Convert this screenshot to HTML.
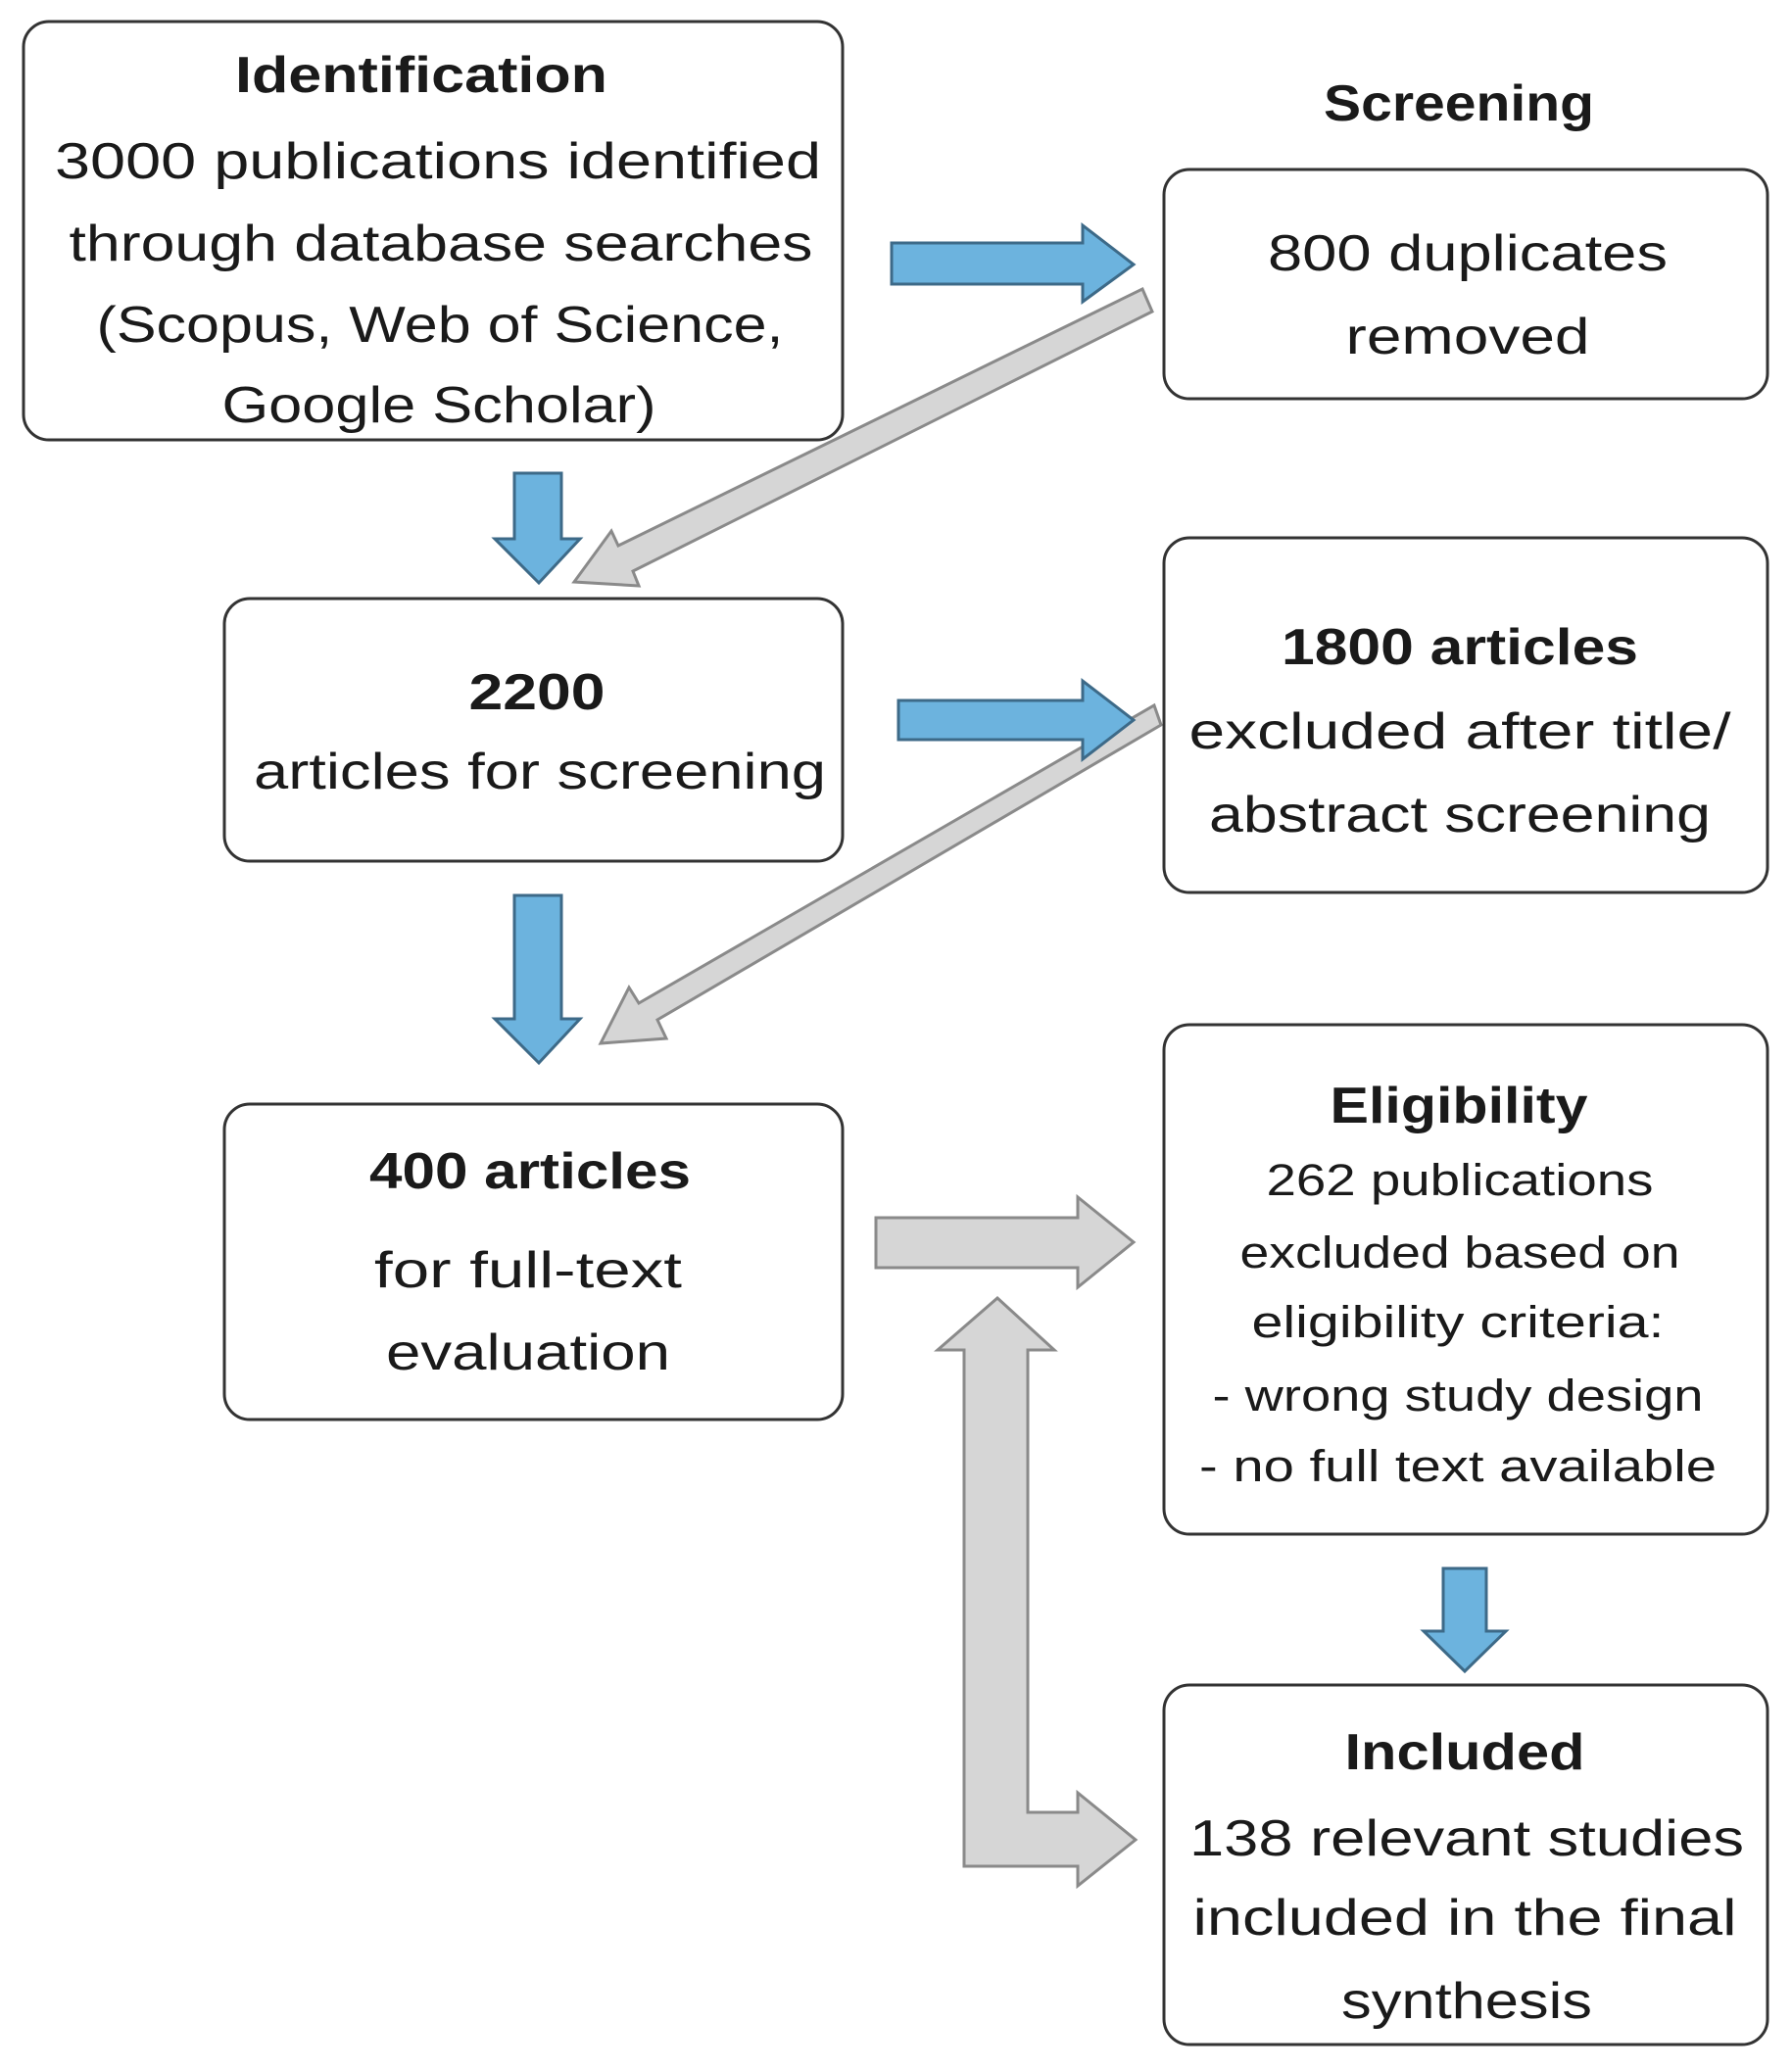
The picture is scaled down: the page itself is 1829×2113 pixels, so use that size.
<!DOCTYPE html>
<html><head><meta charset="utf-8"><style>
html,body{margin:0;padding:0;background:#fff;}
svg{display:block;}
text{font-family:"Liberation Sans",sans-serif;fill:#1a1a1a;}
.b{font-weight:bold;}
</style></head><body>
<svg width="1829" height="2113" viewBox="0 0 1829 2113" xmlns="http://www.w3.org/2000/svg">
<g fill="#fff" stroke="#333" stroke-width="3">
<rect x="24" y="22" width="836" height="427" rx="26"/>
<rect x="1188" y="173" width="616" height="234" rx="26"/>
<rect x="229" y="611" width="631" height="268" rx="26"/>
<rect x="1188" y="549" width="616" height="362" rx="26"/>
<rect x="229" y="1127" width="631" height="322" rx="26"/>
<rect x="1188" y="1046" width="616" height="520" rx="26"/>
<rect x="1188" y="1720" width="616" height="367" rx="26"/>
</g>
<!-- gray arrows -->
<g fill="#d6d6d6" stroke="#8a8a8a" stroke-width="3" stroke-linejoin="miter">
<path d="M1166,295 L1176,318 L646,583 L652,598 L586,594 L624,542 L631,557 Z"/>
<path d="M1178,720 L1185,740 L671,1041 L680,1060 L613,1065 L642,1008 L652,1024 Z"/>
<path d="M894,1243 L1100,1243 L1100,1222 L1157,1268 L1100,1314 L1100,1294 L894,1294 Z"/>
<path d="M1018,1325 L1076,1378 L1049,1378 L1049,1850 L1100,1850 L1100,1830 L1159,1878 L1100,1925 L1100,1905 L984,1905 L984,1378 L957,1378 Z"/>
</g>
<!-- blue arrows -->
<g fill="#6cb3de" stroke="#3d6a88" stroke-width="3">
<path d="M910,248 L1105,248 L1105,230 L1157,270 L1105,308 L1105,290 L910,290 Z"/>
<path d="M917,715 L1105,715 L1105,695 L1157,735 L1105,775 L1105,755 L917,755 Z"/>
<path d="M525,483 L573,483 L573,550 L592,550 L550,595 L505,550 L525,550 Z"/>
<path d="M525,914 L573,914 L573,1040 L592,1040 L550,1085 L505,1040 L525,1040 Z"/>
<path d="M1473,1601 L1517,1601 L1517,1665 L1537,1665 L1495,1706 L1453,1665 L1473,1665 Z"/>
</g>
<g font-size="52" text-anchor="middle">
<text class="b" x="430" y="94" textLength="380" lengthAdjust="spacingAndGlyphs">Identification</text>
<text x="447" y="182" textLength="782" lengthAdjust="spacingAndGlyphs">3000 publications identified</text>
<text x="450" y="266" textLength="759" lengthAdjust="spacingAndGlyphs">through database searches</text>
<text x="449" y="349" textLength="701" lengthAdjust="spacingAndGlyphs">(Scopus, Web of Science,</text>
<text x="448" y="431" textLength="443" lengthAdjust="spacingAndGlyphs">Google Scholar)</text>
<text class="b" x="1489" y="123" textLength="276" lengthAdjust="spacingAndGlyphs">Screening</text>
<text x="1498" y="276" textLength="408" lengthAdjust="spacingAndGlyphs">800 duplicates</text>
<text x="1498" y="361" textLength="249" lengthAdjust="spacingAndGlyphs">removed</text>
<text class="b" x="548" y="724" textLength="139" lengthAdjust="spacingAndGlyphs">2200</text>
<text x="551" y="805" textLength="584" lengthAdjust="spacingAndGlyphs">articles for screening</text>
<text class="b" x="1490" y="678" textLength="364" lengthAdjust="spacingAndGlyphs">1800 articles</text>
<text x="1490" y="764" textLength="553" lengthAdjust="spacingAndGlyphs">excluded after title/</text>
<text x="1490" y="849" textLength="512" lengthAdjust="spacingAndGlyphs">abstract screening</text>
<text class="b" x="541" y="1213" textLength="328" lengthAdjust="spacingAndGlyphs">400 articles</text>
<text x="539" y="1314" textLength="314" lengthAdjust="spacingAndGlyphs">for full-text</text>
<text x="539" y="1398" textLength="290" lengthAdjust="spacingAndGlyphs">evaluation</text>
<text class="b" x="1489" y="1146" textLength="263" lengthAdjust="spacingAndGlyphs">Eligibility</text>
<text x="1490" y="1220" font-size="45" textLength="395" lengthAdjust="spacingAndGlyphs">262 publications</text>
<text x="1490" y="1294" font-size="45" textLength="449" lengthAdjust="spacingAndGlyphs">excluded based on</text>
<text x="1488" y="1365" font-size="45" textLength="421" lengthAdjust="spacingAndGlyphs">eligibility criteria:</text>
<text x="1488" y="1440" font-size="45" textLength="501" lengthAdjust="spacingAndGlyphs">- wrong study design</text>
<text x="1488" y="1512" font-size="45" textLength="528" lengthAdjust="spacingAndGlyphs">-  no full text available</text>
<text class="b" x="1495" y="1806" textLength="245" lengthAdjust="spacingAndGlyphs">Included</text>
<text x="1497" y="1894" textLength="566" lengthAdjust="spacingAndGlyphs">138 relevant studies</text>
<text x="1495" y="1975" textLength="555" lengthAdjust="spacingAndGlyphs">included in the final</text>
<text x="1497" y="2060" textLength="256" lengthAdjust="spacingAndGlyphs">synthesis</text>
</g>
</svg>
</body></html>
